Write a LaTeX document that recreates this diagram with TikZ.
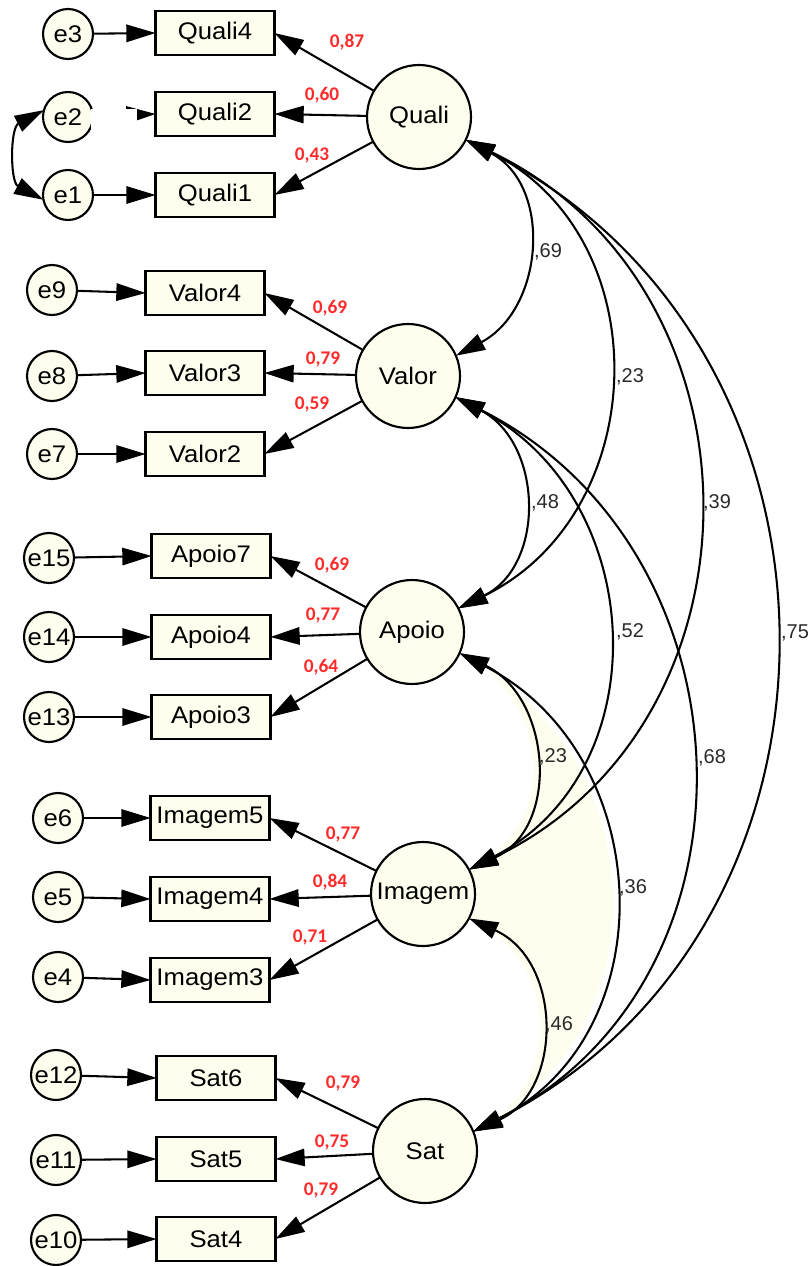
\documentclass[tikz,border=0pt]{standalone}
\usepackage{fontspec}
\setmainfont{Liberation Sans}[FakeStretch=1.07]
\newfontfamily\carlfont{Carlito}
\newfontfamily\covfont{Liberation Sans}
\usetikzlibrary{arrows.meta,backgrounds}
\definecolor{nodefill}{HTML}{FEFEEF}
\definecolor{loadred}{HTML}{FF2B2B}
\definecolor{covgray}{HTML}{2A2A2A}
\newcommand\nodelabfont{\fontsize{18pt}{20pt}\selectfont}
\newcommand\redlabfont{\carlfont\bfseries\fontsize{14.5pt}{16pt}\selectfont}
\newcommand\covlabfont{\covfont\fontsize{15pt}{17pt}\selectfont}
\tikzset{
  lat/.style={circle, draw, line width=1.6pt, fill=nodefill, minimum size=78pt, inner sep=0pt, outer sep=0pt, font=\nodelabfont},
  err/.style={circle, draw, line width=1.6pt, fill=nodefill, minimum size=37.5pt, inner sep=0pt, outer sep=0pt, font=\nodelabfont},
  obs/.style={rectangle, draw, line width=1.8pt, fill=nodefill, minimum width=89pt, minimum height=33pt, inner sep=0pt, outer sep=0pt, font=\nodelabfont},
  ld/.style={font=\redlabfont, text=loadred, inner sep=0pt},
  cv/.style={font=\covlabfont, text=covgray, inner sep=0pt},
  arr/.style={line width=1.55pt, -{Triangle[length=22pt,width=13pt]}},
  darr/.style={line width=1.55pt, {Triangle[length=22pt,width=13pt]}-{Triangle[length=22pt,width=13pt]}},
}
\begin{document}
\begin{tikzpicture}[x=0.75pt,y=-0.75pt]
\useasboundingbox (0,0) rectangle (811,1266);
% ---------- Quali ----------
\node[err] (e3) at (68,34) {e3};
\node[err] (e2) at (68,117) {e2};
\node[err] (e1) at (68,195) {e1};
\node[obs] (Q4) at (215,33) {Quali4};
\node[obs] (Q2) at (215,114) {Quali2};
\node[obs] (Q1) at (215,195) {Quali1};
\node[lat] (Quali) at (419,117) {Quali};
% ---------- Valor ----------
\node[err] (e9) at (52,290) {e9};
\node[err] (e8) at (52,376) {e8};
\node[err] (e7) at (52,454) {e7};
\node[obs] (V4) at (205,293) {Valor4};
\node[obs] (V3) at (205,373) {Valor3};
\node[obs] (V2) at (205,454) {Valor2};
\node[lat] (Valor) at (408,376) {Valor};
% ---------- Apoio ----------
\node[err] (e15) at (49,558) {e15};
\node[err] (e14) at (49,637) {e14};
\node[err] (e13) at (49,717) {e13};
\node[obs] (A7) at (211,556) {Apoio7};
\node[obs] (A4) at (211,637) {Apoio4};
\node[obs] (A3) at (211,717) {Apoio3};
\node[lat] (Apoio) at (412,632) {Apoio};
% ---------- Imagem ----------
\node[err] (e6) at (58,818) {e6};
\node[err] (e5) at (58,897) {e5};
\node[err] (e4) at (58,977) {e4};
\node[obs] (I5) at (210,818) {Imagem5};
\node[obs] (I4) at (210,899) {Imagem4};
\node[obs] (I3) at (210,980) {Imagem3};
\node[lat] (Imagem) at (423,894) {Imagem};
% ---------- Sat ----------
\node[err] (e12) at (56,1075) {e12};
\node[err] (e11) at (56,1160) {e11};
\node[err] (e10) at (56,1240) {e10};
\node[obs] (S6) at (216,1078) {Sat6};
\node[obs] (S5) at (216,1159) {Sat5};
\node[obs] (S4) at (216,1239) {Sat4};
\node[lat] (Sat) at (425,1151) {Sat};

% fill region between covariances
\begin{scope}[on background layer]
\fill[nodefill] (Apoio.-24) .. controls (551,697) and (561,827) .. (Imagem.28) -- (Imagem.-28)
  .. controls (563,961) and (563,1091) .. (Sat.22)
  .. controls (668,1033) and (656,754) .. (Apoio.-24) -- cycle;
\end{scope}

% error arrows
\foreach \e/\b in {e3/Q4,e2/Q2,e1/Q1,e9/V4,e8/V3,e7/V2,e15/A7,e14/A4,e13/A3,e6/I5,e5/I4,e4/I3,e12/S6,e11/S5,e10/S4}
  \draw[arr] (\e) -- (\b.west);

% loadings
\foreach \l/\b in {Quali/Q4,Quali/Q2,Quali/Q1,Valor/V4,Valor/V3,Valor/V2,Apoio/A7,Apoio/A4,Apoio/A3,Imagem/I5,Imagem/I4,Imagem/I3,Sat/S6,Sat/S5,Sat/S4}
  \draw[arr] (\l) -- (\b.east);

% e1 <-> e2
\draw[darr] (e2.164) .. controls (10,128) and (10,182) .. (e1.191);

% white patch (as in the reference)
\fill[white] (91,109) rectangle (137,139);

% covariances
\draw[darr] (Quali.-26) .. controls (553,186) and (544,309) .. (Valor.23);
\draw[darr] (Quali.-26) .. controls (660,237) and (653,513) .. (Apoio.27);
\draw[darr] (Quali.-26) .. controls (772,287) and (775,722) .. (Imagem.28);
\draw[darr] (Quali.-26) .. controls (872,346) and (877,926) .. (Sat.22);
\draw[darr] (Valor.-24) .. controls (543,443) and (546,565) .. (Apoio.27);
\draw[darr] (Valor.-24) .. controls (648,497) and (661,770) .. (Imagem.28);
\draw[darr] (Valor.-24) .. controls (758,550) and (773,980) .. (Sat.22);
\draw[darr] (Apoio.-24) .. controls (551,697) and (561,827) .. (Imagem.28);
\draw[darr] (Apoio.-24) .. controls (656,754) and (668,1033) .. (Sat.22);
\draw[darr] (Imagem.-28) .. controls (563,961) and (563,1091) .. (Sat.22);

% covariance labels
\node[cv] (c1) at (548,252) {,69};
\node[cv] (c2) at (630,377) {,23};
\node[cv] (c3) at (717,503) {,39};
\node[cv] (c4) at (795,633) {,75};
\node[cv] (c5) at (545,503) {,48};
\node[cv] (c6) at (630,632) {,52};
\node[cv] (c7) at (712,758) {,68};
\node[cv] (c8) at (553,757) {,23};
\node[cv] (c9) at (633,888) {,36};
\node[cv] (c10) at (559,1025) {,46};

% loading labels
\node[ld] (l1) at (347,42) {0,87};
\node[ld] (l2) at (322,95) {0,60};
\node[ld] (l3) at (312,155) {0,43};
\node[ld] (l4) at (330,308) {0,69};
\node[ld] (l5) at (323,359) {0,79};
\node[ld] (l6) at (312,404) {0,59};
\node[ld] (l7) at (332,565) {0,69};
\node[ld] (l8) at (323,615) {0,77};
\node[ld] (l9) at (321,667) {0,64};
\node[ld] (l10) at (343,834) {0,77};
\node[ld] (l11) at (330,882) {0,84};
\node[ld] (l12) at (310,937) {0,71};
\node[ld] (l13) at (343,1083) {0,79};
\node[ld] (l14) at (332,1142) {0,75};
\node[ld] (l15) at (321,1190) {0,79};
\end{tikzpicture}
\end{document}
